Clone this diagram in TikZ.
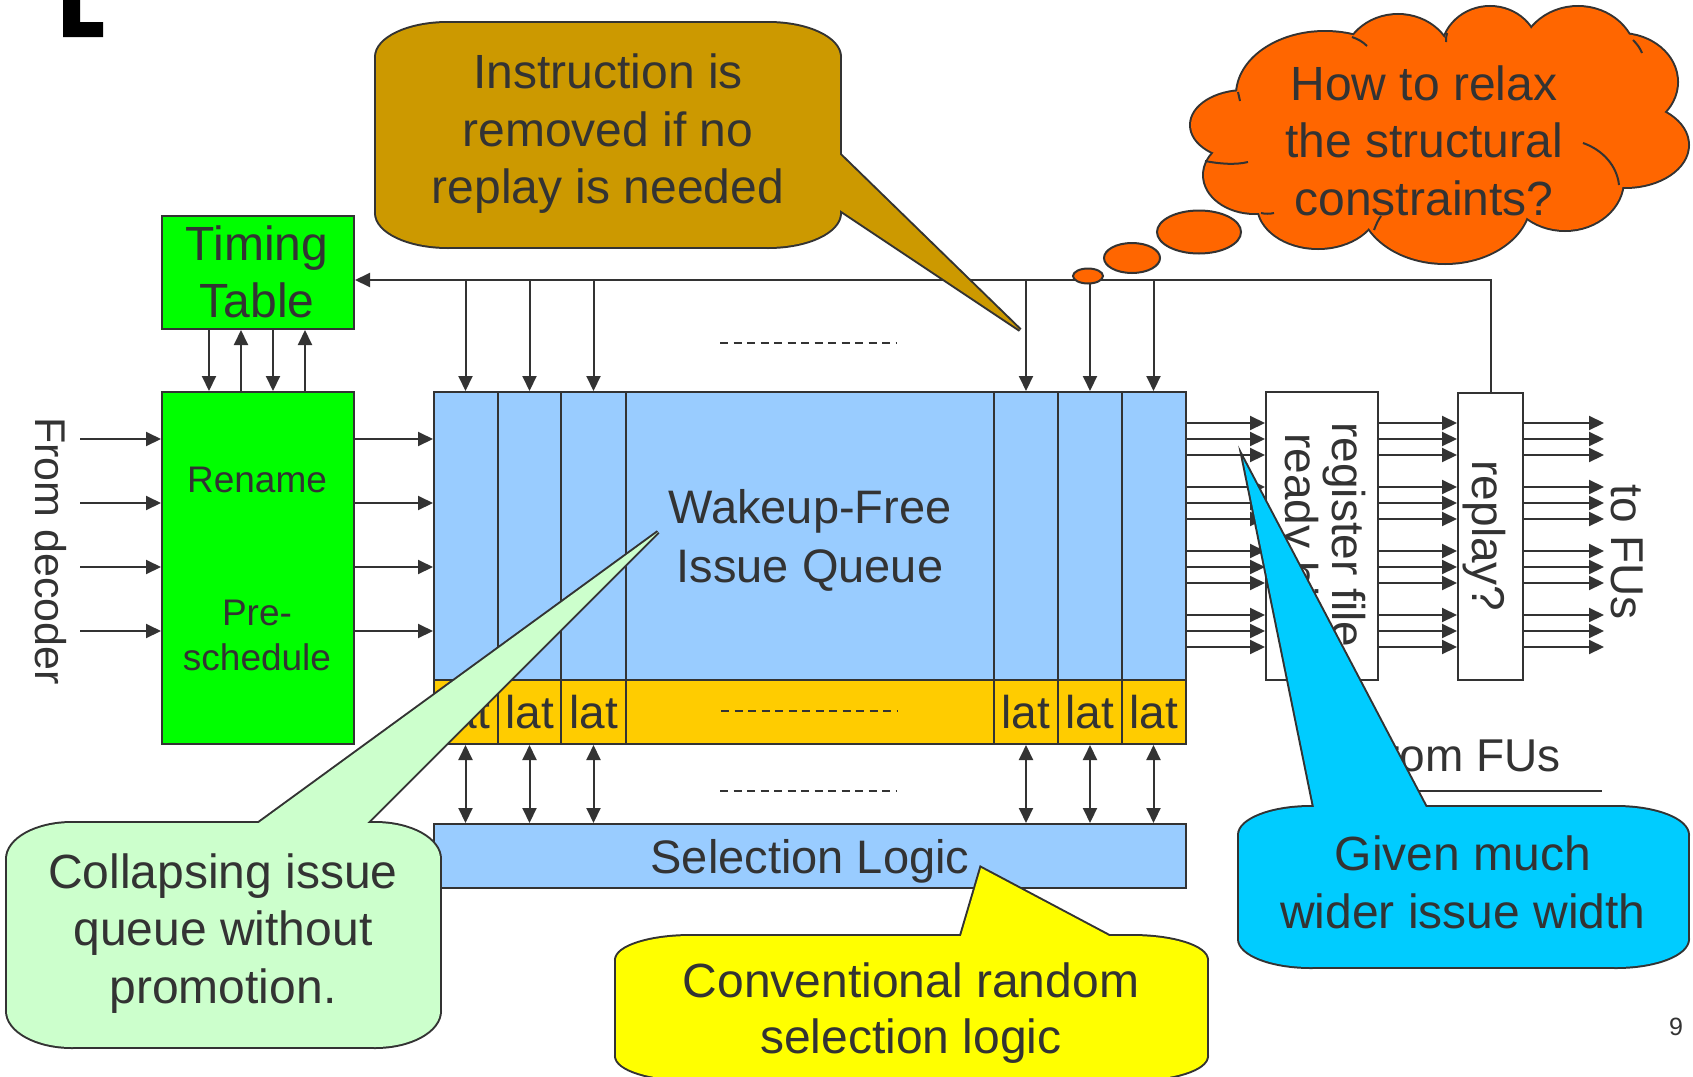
\documentclass[tikz,border=0pt]{standalone}
\usepackage{fontspec}
\setmainfont{Liberation Sans}
\usetikzlibrary{arrows.meta}
\definecolor{ink}{HTML}{333333}
\definecolor{grn}{HTML}{00FF00}
\definecolor{qblue}{HTML}{99CCFF}
\definecolor{latc}{HTML}{FFCC00}
\definecolor{brownc}{HTML}{CC9900}
\definecolor{orangec}{HTML}{FF6600}
\definecolor{lgreen}{HTML}{CCFFCC}
\definecolor{yelc}{HTML}{FFFF00}
\definecolor{cyanc}{HTML}{00CCFF}
\newcommand\fs[1]{\fontsize{#1}{#1}\selectfont}
% rounded body with elliptic corners: style, x0,y0,x1,y1,rx,ry
\newcommand\ecbody[7]{%
  \path[#1] ({#2+#6},#3) rectangle ({#4-#6},#5);
  \path[#1] (#2,{#3+#7}) rectangle (#4,{#5-#7});
  \path[#1] ({#2+#6},{#3+#7}) ellipse [x radius=#6, y radius=#7];
  \path[#1] ({#4-#6},{#3+#7}) ellipse [x radius=#6, y radius=#7];
  \path[#1] ({#2+#6},{#5-#7}) ellipse [x radius=#6, y radius=#7];
  \path[#1] ({#4-#6},{#5-#7}) ellipse [x radius=#6, y radius=#7];
}
\begin{document}
\begin{tikzpicture}[x=1pt,y=-1pt,
  box/.style={draw=ink,line width=2pt,inner sep=0pt,anchor=north west},
  Tri/.tip={Triangle[length=15pt,width=14pt]},
  arr/.style={draw=ink,line width=2pt,-Tri},
  darr/.style={draw=ink,line width=2pt,Tri-Tri},
  dots/.style={draw=ink,line width=1.5pt,dash pattern=on 8pt off 5.5pt},
  txt/.style={text=ink,inner sep=0pt,anchor=base},
  edge/.style={draw=ink,line width=4pt},
  thin/.style={draw=ink,line width=2pt},
  ]
\fill[white] (0,0) rectangle (1693,1076);
\useasboundingbox (0,0) rectangle (1693,1076);

% title fragment
\fill[black] (63,-2) -- (80,-2) -- (80,22) -- (103,22) -- (103,37) -- (63,37) -- cycle;

% boxes
\node[box,fill=grn,minimum width=192pt,minimum height=113pt] (tt) at (161,215) {};
\node[box,fill=grn,minimum width=192pt,minimum height=352pt] (rn) at (161,391) {};
\node[box,fill=qblue,minimum width=752pt,minimum height=288pt] (qb) at (433,391) {};
\node[box,fill=latc,minimum width=752pt,minimum height=64pt] (ql) at (433,679) {};
\node[box,fill=qblue,minimum width=752pt,minimum height=64pt] (sel) at (433,823) {};
\node[box,fill=white,minimum width=112pt,minimum height=288pt] (rf) at (1265,391) {};
\node[box,fill=white,minimum width=65pt,minimum height=287pt] (rp) at (1457,392) {};
\foreach \x in {498,561,626,994,1058,1122}
  \draw[thin] (\x,391) -- (\x,743);

% named coordinates
\coordinate (fb) at (1489.5,280);
\coordinate (dec) at (80,0);
\coordinate (fus) at (1604,0);
\foreach \n/\x in {1/465.5,2/529.5,3/593.5,4/1026,5/1090,6/1153.5}
  \coordinate (c\n) at (\x,0);
\foreach \n/\y in {1/439,2/503,3/567,4/631}
  \coordinate (r\n) at (0,\y);
\foreach \n/\x in {1/209,2/241,3/273,4/305}
  \coordinate (t\n) at (\x,0);

% connectors
\draw[arr] (rp.north) -- (rp.north |- fb) -- (tt.east |- fb);
\foreach \n in {1,...,6} {
  \draw[arr] (c\n |- fb) -- (c\n |- qb.north);
  \draw[darr] (c\n |- ql.south) -- (c\n |- sel.north);
}
\draw[arr] (t1 |- tt.south) -- (t1 |- rn.north);
\draw[arr] (t2 |- rn.north) -- (t2 |- tt.south);
\draw[arr] (t3 |- tt.south) -- (t3 |- rn.north);
\draw[arr] (t4 |- rn.north) -- (t4 |- tt.south);
\foreach \n in {1,...,4} {
  \draw[arr] (dec |- r\n) -- (rn.west |- r\n);
  \draw[arr] (rn.east |- r\n) -- (qb.west |- r\n);
}
\foreach \y in {423,439,455,487,503,519,551,567,583,615,631,647} {
  \coordinate (o) at (0,\y);
  \draw[arr] (qb.east |- o) -- (rf.west |- o);
  \draw[arr] (rf.east |- o) -- (rp.west |- o);
  \draw[arr] (rp.east |- o) -- (fus |- o);
}
\draw[dots] (720,343) -- (896,343);
\draw[dots] (721,711) -- (897,711);
\draw[dots] (720,791) -- (896,791);
\draw[thin] (1330,791) -- (1602,791);

% texts in boxes
\node[txt,font=\fs{48}] (tt1) at (257,260) {Timing};
\node[txt,font=\fs{48}] (tt2) at (257,317) {Table};
\node[txt,font=\fs{37}] (rn1) at (257,492) {Rename};
\node[txt,font=\fs{37}] (rn2) at (257,625) {Pre-};
\node[txt,font=\fs{37}] (rn3) at (257,670) {schedule};
\node[txt,font=\fs{43},rotate=-90] (fd) at (35,551) {From decoder};
\node[txt,font=\fs{47}] (q1) at (810,523) {Wakeup-Free};
\node[txt,font=\fs{47}] (q2) at (810,582) {Issue Queue};
\foreach \n in {1,...,6}
  \node[txt,font=\fs{46}] (lat\n) at (c\n |- 0,728) {lat};
\node[txt,font=\fs{47}] (sl) at (810,873) {Selection Logic};
\node[txt,font=\fs{46},rotate=-90] (rft) at (1332,535) {register file};
\node[txt,font=\fs{46},rotate=-90] (rdy) at (1285,533) {ready bits};
\node[txt,font=\fs{46},rotate=-90] (rpt) at (1472,536) {replay?};
\node[txt,font=\fs{46},rotate=-90] (tfu) at (1611,552) {to FUs};
\node[txt,font=\fs{46}] (ffu) at (1466,771) {from FUs};
\node[txt,font=\fs{25}] (pg) at (1676,1035) {9};

% brown callout
\ecbody{edge}{376}{23}{840}{247}{72}{34}
\path[edge] (828,143) -- (1020,330) -- (828,202) -- cycle;
\ecbody{fill=brownc}{376}{23}{840}{247}{72}{34}
\path[fill=brownc] (828,143) -- (1020,330) -- (828,202) -- cycle;
\node[txt,font=\fs{48}] (b1) at (608,88) {Instruction is};
\node[txt,font=\fs{48}] (b2) at (608,146) {removed if no};
\node[txt,font=\fs{48}] (b3) at (608,203) {replay is needed};

% light green callout
\ecbody{edge}{7}{823}{440}{1047}{65}{36}
\path[edge] (245,833) -- (658,532) -- (357,833) -- cycle;
\ecbody{fill=lgreen}{7}{823}{440}{1047}{65}{36}
\path[fill=lgreen] (245,833) -- (658,532) -- (357,833) -- cycle;
\node[txt,font=\fs{48}] (g1) at (223,888) {Collapsing issue};
\node[txt,font=\fs{48}] (g2) at (223,945) {queue without};
\node[txt,font=\fs{48}] (g3) at (223,1003) {promotion.};

% yellow callout
\ecbody{edge}{616}{936}{1207}{1080}{75}{24}
\path[edge] (958,946) -- (981,868) -- (1128,946) -- cycle;
\ecbody{fill=yelc}{616}{936}{1207}{1080}{75}{24}
\path[fill=yelc] (958,946) -- (981,868) -- (1128,946) -- cycle;
\node[txt,font=\fs{48}] (y1) at (911,997) {Conventional random};
\node[txt,font=\fs{48}] (y2) at (911,1053) {selection logic};

% cyan callout
\ecbody{edge}{1239}{807}{1688}{967}{72}{28}
\path[edge] (1316,817) -- (1243,459) -- (1431,817) -- cycle;
\ecbody{fill=cyanc}{1239}{807}{1688}{967}{72}{28}
\path[fill=cyanc] (1316,817) -- (1243,459) -- (1431,817) -- cycle;
\node[txt,font=\fs{48}] (k1) at (1463,870) {Given much};
\node[txt,font=\fs{48}] (k2) at (1463,928) {wider issue width};

% cloud
\foreach \cx/\cy/\rx/\ry in {1245/125/54/34,1255/175/51/38,1325/95/88/63,1398/65/55/50,1490/52/48/45,1578/60/58/53,1620/82/57/48,1625/145/63/42,1565/180/58/50,1445/200/85/63,1318/205/60/43,1430/140/170/85}
  \path[edge] (\cx,\cy) ellipse [x radius=\rx, y radius=\ry];
\foreach \cx/\cy/\rx/\ry in {1245/125/54/34,1255/175/51/38,1325/95/88/63,1398/65/55/50,1490/52/48/45,1578/60/58/53,1620/82/57/48,1625/145/63/42,1565/180/58/50,1445/200/85/63,1318/205/60/43,1430/140/170/85}
  \path[fill=orangec] (\cx,\cy) ellipse [x radius=\rx, y radius=\ry];
% inner puff creases
\draw[thin] (1205,161) .. controls (1220,164) and (1236,165) .. (1248,162);
\draw[thin] (1583,143) .. controls (1603,150) and (1617,166) .. (1619,185);
\draw[thin] (1238,92) .. controls (1239,95) and (1239,98) .. (1240,101);
\draw[thin] (1352,37) .. controls (1358,39) and (1363,42) .. (1367,46);
\draw[thin] (1447,33) .. controls (1446,36) and (1446,39) .. (1446,42);
\draw[thin] (1633,40) .. controls (1637,44) and (1640,48) .. (1642,53);
\draw[thin] (1374,230) .. controls (1376,225) and (1378,220) .. (1381,216);
\draw[thin] (1261,213) .. controls (1265,214) and (1270,214) .. (1274,213);
\path[draw=ink,line width=2pt,fill=orangec] (1088,276) ellipse [x radius=15, y radius=7.5];
\path[draw=ink,line width=2pt,fill=orangec] (1132,258) ellipse [x radius=28, y radius=15];
\path[draw=ink,line width=2pt,fill=orangec] (1199,232) ellipse [x radius=42, y radius=21.5];
\node[txt,font=\fs{48}] (o1) at (1424,100) {How to relax};
\node[txt,font=\fs{48}] (o2) at (1424,157) {the structural};
\node[txt,font=\fs{48}] (o3) at (1424,215) {constraints?};
\end{tikzpicture}
\end{document}
